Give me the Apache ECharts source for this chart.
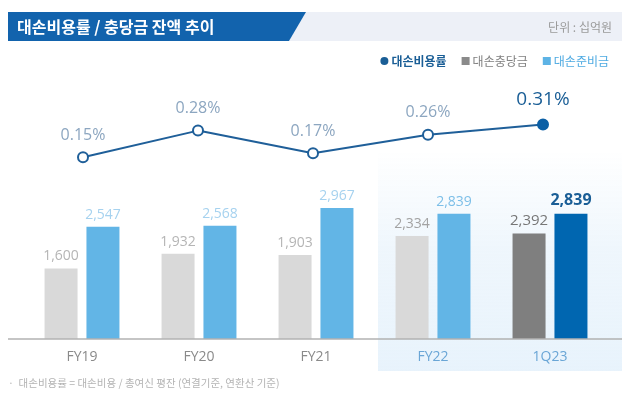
<!DOCTYPE html>
<html>
<head>
<meta charset="utf-8">
<script src="https://cdn.jsdelivr.net/npm/echarts@6/dist/echarts.min.js"></script>
<style>
html,body{margin:0;padding:0;background:#fff;}
#chart{width:630px;height:402px;}
</style>
</head>
<body>
<div id="chart"></div>
<script>
const categories = ['FY19', 'FY20', 'FY21', 'FY22', '1Q23'];
const lossRate = [0.15, 0.28, 0.17, 0.26, 0.31];      // 대손비용률 (%)
const allowance = [1600, 1932, 1903, 2334, 2392];     // 대손충당금 (십억원)
const reserve = [2547, 2568, 2967, 2839, 2839];       // 대손준비금 (십억원)
const seriesNames = ['대손비용률', '대손충당금', '대손준비금'];
const titleText = '대손비용률 / 충당금 잔액 추이';
const unitText = '단위 : 십억원';
const noteText = '·  대손비용률 = 대손비용 / 총여신 평잔 (연결기준, 연환산 기준)';

const FONT = '"Noto Sans CJK KR", "Noto Sans", sans-serif';
const last = categories.length - 1;
const hiStart = 3;
const fmt = v => v.toLocaleString('en-US');

const chart = echarts.init(document.getElementById('chart'), null, {renderer: 'canvas'});

const lineData = lossRate.map((v, i) => i === last ? {
  value: v,
  itemStyle: {color: '#0b5fa5', borderColor: '#0b5fa5'},
  label: {color: '#1a5e96', fontSize: 19, fontWeight: 500, distance: 9}
} : v);

const allowData = allowance.map((v, i) => i === last ? {
  value: v,
  itemStyle: {color: '#7f7f7f'},
  label: {color: '#777777', fontSize: 15}
} : (i >= hiStart ? {value: v, label: {color: '#a3a3a3'}} : v));

const reserveData = reserve.map((v, i) => i === last ? {
  value: v,
  itemStyle: {color: '#0066b0'},
  label: {color: '#1a5e96', fontSize: 16, fontWeight: 'bold'}
} : (i >= hiStart ? {value: v, label: {color: '#7dbfe8'}} : v));

const option = {
  animation: false,
  textStyle: {fontFamily: FONT},
  graphic: [
    {type: 'rect', z: -10, shape: {x: 378, y: 150, width: 244, height: 221},
     style: {fill: new echarts.graphic.LinearGradient(0, 0, 0, 1, [
       {offset: 0, color: 'rgba(236,245,252,0)'},
       {offset: 0.45, color: 'rgba(236,245,252,0.85)'},
       {offset: 1, color: '#e8f3fc'}])}},
    {type: 'polygon', shape: {points: [[306, 12], [622, 12], [622, 41], [289, 41]]}, style: {fill: '#edf0f7'}},
    {type: 'polygon', shape: {points: [[8, 12], [306, 12], [289, 41], [8, 41]]}, style: {fill: '#1263ad'}},
    {type: 'text', x: 17, y: 27, style: {text: titleText, fill: '#ffffff', font: 'bold 16px ' + FONT, verticalAlign: 'middle'}},
    {type: 'text', x: 612, y: 27, style: {text: unitText, fill: '#9a9a9a', font: '12px ' + FONT, align: 'right', verticalAlign: 'middle'}},
    {type: 'line', z: 10, shape: {x1: 8, y1: 339, x2: 622, y2: 339}, style: {stroke: '#b2b2b2', lineWidth: 1.5}},
    {type: 'text', x: 8, y: 383, style: {text: noteText, fill: '#b4b4b4', font: '10.5px ' + FONT, verticalAlign: 'middle'}}
  ],
  legend: {
    top: 50, right: 16, itemWidth: 8, itemHeight: 8, itemGap: 15,
    textStyle: {fontSize: 12, fontFamily: FONT, padding: [0, 0, 0, -2]},
    data: [
      {name: seriesNames[0], icon: 'circle', itemStyle: {color: '#1a5e96', borderWidth: 0}, textStyle: {color: '#1a5e96', fontWeight: 'bold'}},
      {name: seriesNames[1], icon: 'rect', itemStyle: {color: '#8a8a8a'}, textStyle: {color: '#808080'}},
      {name: seriesNames[2], icon: 'rect', itemStyle: {color: '#5db3e5'}, textStyle: {color: '#4eaae2'}}
    ]
  },
  grid: [
    {left: 25.5, right: 29.5, top: 106, bottom: 214},
    {left: 23.5, right: 21.5, top: 189, bottom: 63}
  ],
  xAxis: [
    {type: 'category', gridIndex: 0, data: categories, show: false},
    {type: 'category', gridIndex: 1, data: categories,
     axisLine: {show: false}, axisTick: {show: false},
     axisLabel: {margin: 11, fontSize: 14, fontFamily: '"Open Sans", "Noto Sans", sans-serif',
       color: (v, i) => i >= hiStart ? '#6aa6d6' : '#8a8a8a'}}
  ],
  yAxis: [
    {type: 'value', gridIndex: 0, min: 0, max: 0.4, show: false},
    {type: 'value', gridIndex: 1, min: 0, max: 3400, show: false}
  ],
  series: [
    {name: seriesNames[0], type: 'line', xAxisIndex: 0, yAxisIndex: 0, data: lineData,
     symbol: 'circle', symbolSize: 10, z: 5,
     lineStyle: {color: '#1f5f99', width: 2},
     itemStyle: {color: '#ffffff', borderColor: '#1f5f99', borderWidth: 2},
     label: {show: true, position: 'top', distance: 8, fontSize: 16, color: '#8ca6c0',
       fontFamily: '"Open Sans", "Noto Sans", sans-serif',
       formatter: p => p.value.toFixed(2) + '%'}},
    {name: seriesNames[1], type: 'bar', xAxisIndex: 1, yAxisIndex: 1, data: allowData,
     barWidth: 33, barGap: '27%',
     itemStyle: {color: '#d9d9d9'},
     label: {show: true, position: 'top', distance: 5, fontSize: 14, color: '#b5b5b5',
       fontFamily: '"Open Sans", "Noto Sans", sans-serif', formatter: p => fmt(p.value)}},
    {name: seriesNames[2], type: 'bar', xAxisIndex: 1, yAxisIndex: 1, data: reserveData,
     barWidth: 33, barGap: '27%',
     itemStyle: {color: '#62b5e6'},
     label: {show: true, position: 'top', distance: 5, fontSize: 14, color: '#a6d2ef',
       fontFamily: '"Open Sans", "Noto Sans", sans-serif', formatter: p => fmt(p.value)}}
  ]
};
chart.setOption(option);
</script>
</body>
</html>
